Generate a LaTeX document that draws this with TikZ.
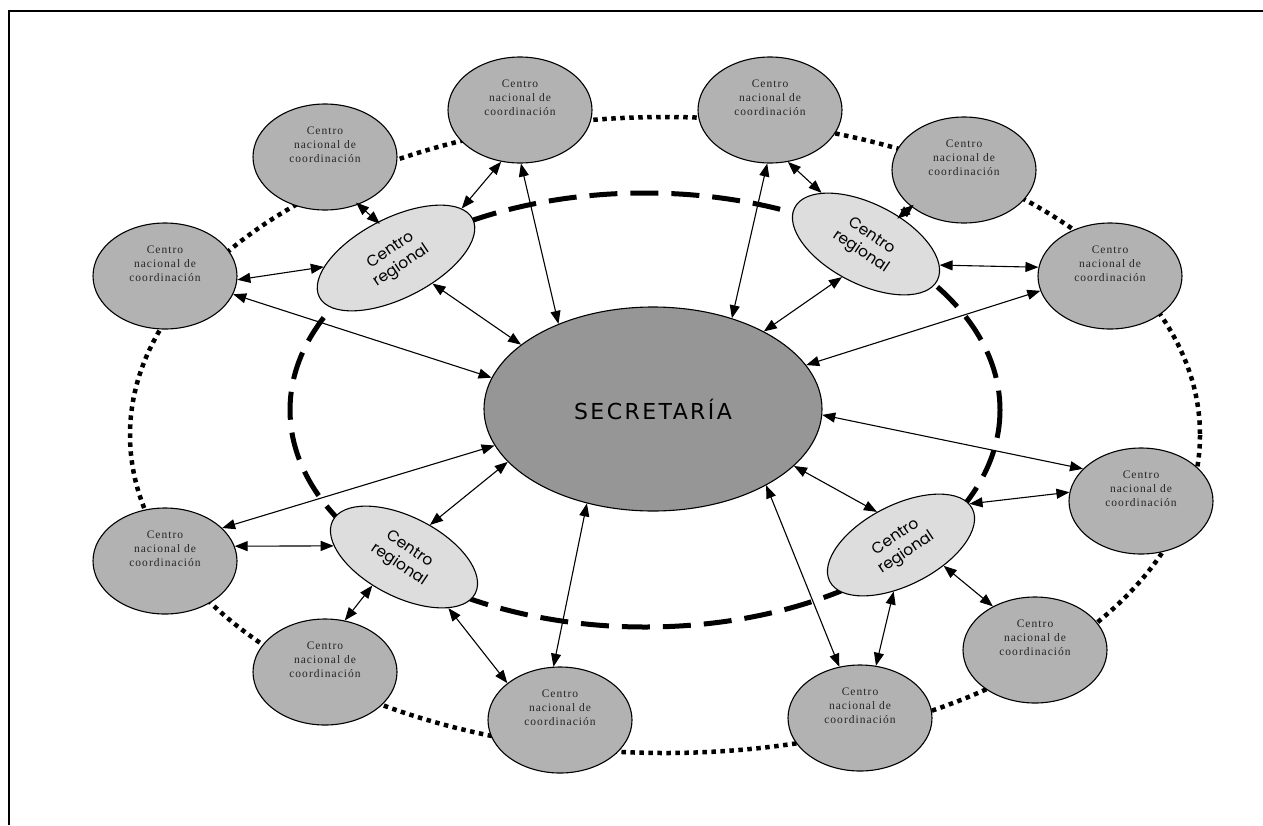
\documentclass[tikz,border=0pt]{standalone}
\usepackage{fontspec}
\usepackage{graphicx}
\usetikzlibrary{arrows.meta,shapes.geometric}
\newfontfamily\natfont{Liberation Serif}[LetterSpace=9]
\newfontfamily\secfont{DejaVu Sans}[LetterSpace=11]
\newfontfamily\regfont{Poppins}
\definecolor{natgray}{RGB}{178,178,178}
\definecolor{secgray}{RGB}{150,150,150}
\definecolor{reggray}{RGB}{221,221,221}
\newcommand{\natlabel}{\begin{tabular}{@{}c@{}}Centro\\nacional de\\coordinación\\[22pt]\end{tabular}}
\newcommand{\reglabel}[1]{\rotatebox{#1}{\begin{tabular}{@{}c@{}}Centro\\regional\end{tabular}}}
\begin{document}
\begin{tikzpicture}[x=1pt,y=-1pt,
  nat/.style={ellipse, draw, line width=1.1pt, fill=natgray, minimum width=144pt, minimum height=106pt, inner sep=0pt, text=black!85, font=\natfont\fontsize{11.5}{14}\selectfont},
  sec/.style={ellipse, draw, line width=1.1pt, fill=secgray, minimum width=338pt, minimum height=204pt, inner sep=0pt, font=\secfont\fontsize{22}{26}\selectfont},
  reg/.style={ellipse, draw, line width=1.1pt, fill=reggray, minimum width=160pt, minimum height=80pt, inner sep=0pt, font=\regfont\fontsize{15.5}{19}\selectfont},
  bi/.style={line width=1.1pt, >={Triangle[length=13pt,width=10pt]}, <->},
  diam/.style={shorten <=-3pt, shorten >=-3pt},
  ring/.style={line width=4.5pt, dash pattern=on 4.5pt off 4.5pt},
  dashring/.style={line width=5pt, dash pattern=on 28pt off 13pt}]
\useasboundingbox (0,0) rectangle (1263,825);
\fill[white] (0,0) rectangle (1263,825);
\draw[line width=2pt] (9,825) -- (9,11) -- (1263,11);
% rings
\draw[ring] (665,435) ellipse [x radius=535, y radius=318];
\draw[dashring] (645,410) ellipse [x radius=355, y radius=217];
% national centres
\node[nat] (ntop1) at (520,110) {\natlabel};
\node[nat] (ntop2) at (770,110) {\natlabel};
\node[nat] (nul) at (325,157) {\natlabel};
\node[nat] (nur) at (964,170) {\natlabel};
\node[nat] (nl) at (165,276) {\natlabel};
\node[nat] (nr) at (1110,276) {\natlabel};
\node[nat] (nlr) at (1141,501) {\natlabel};
\node[nat] (nl2) at (165,561) {\natlabel};
\node[nat] (nbl) at (325,672) {\natlabel};
\node[nat] (nb1) at (560,720) {\natlabel};
\node[nat] (nb2) at (860,718) {\natlabel};
\node[nat] (nbr) at (1035,650) {\natlabel};
% secretariat
\node[sec] (sec) at (653,409) {SECRETARÍA};
% regional centres
\node[reg, rotate=27, minimum width=172pt] (rul) at (396,258) {\reglabel{7}};
\node[reg, rotate=-27] (rur) at (866,244) {\reglabel{-7}};
\node[reg, rotate=-27] (rll) at (404,557) {\reglabel{-7}};
\node[reg, rotate=27] (rlr) at (901,545) {\reglabel{7}};
% connectors
\draw[bi, diam] (nul.-55) -- (rul.90);
\draw[bi] (ntop1.-110) -- (rul.10);
\draw[bi] (ntop1.-89) -- (sec.138);
\draw[bi] (nl.-3) -- (rul.160);
\draw[bi] (nl.-15) -- (sec.169);
\draw[bi] (rul.-62) -- (sec.154);
\draw[bi] (ntop2.-71) -- (rur.158);
\draw[bi] (ntop2.-93) -- (sec.49);
\draw[bi, diam] (rur.66) -- (nur.215);
\draw[bi] (rur.11) -- (nr.173);
\draw[bi] (rur.-99) -- (sec.35);
\draw[bi] (sec.16) -- (nr.192);
\draw[bi] (sec.-2) -- (nlr.151);
\draw[bi] (sec.-22) -- (rlr.99);
\draw[bi] (rlr.4) -- (nlr.173);
\draw[bi] (sec.-34) -- (nb2.112);
\draw[bi] (rlr.-126) -- (nb2.73);
\draw[bi] (rlr.-53) -- (nbr.134);
\draw[bi] (sec.-125) -- (nb1.97);
\draw[bi] (rll.-22) -- (nb1.145);
\draw[bi] (rll.-111) -- (nbl.69);
\draw[bi] (nl2.12) -- (rll.198);
\draw[bi] (nl2.30) -- (sec.193);
\draw[bi] (rll.78) -- (sec.200);
\end{tikzpicture}
\end{document}
